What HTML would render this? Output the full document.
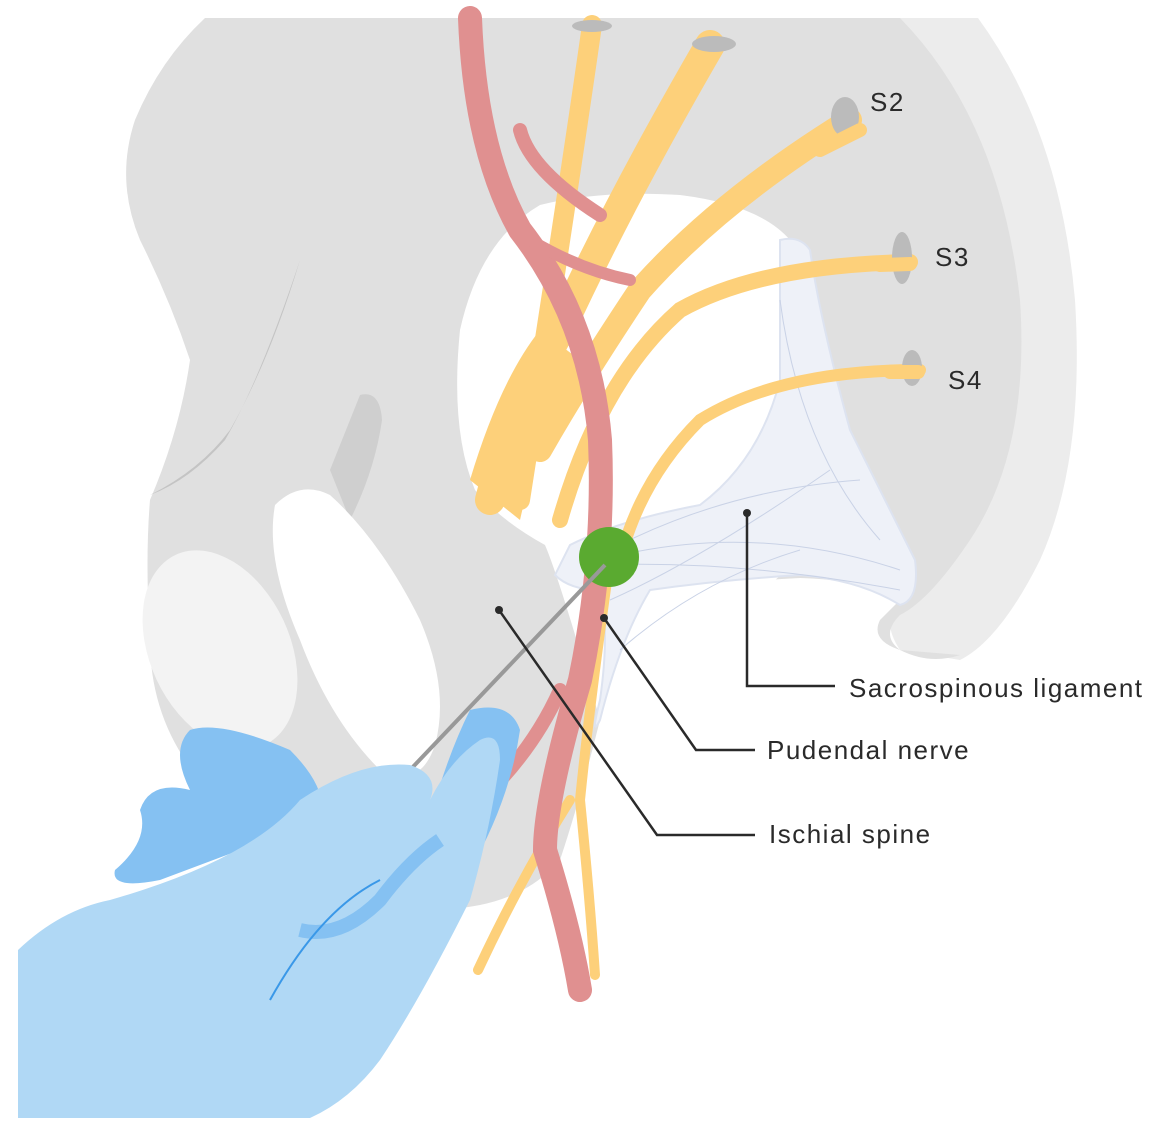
<!DOCTYPE html>
<html><head><meta charset="utf-8"><style>
html,body{margin:0;padding:0;background:#fff}
svg{display:block}
text{font-family:"Liberation Sans",sans-serif;font-size:26px;letter-spacing:1.5px;fill:#2a2a2a}
</style></head><body>
<svg width="1165" height="1135" viewBox="0 0 1165 1135" xmlns="http://www.w3.org/2000/svg">
<!-- sacrum light back -->
<path d="M760 18 L978 18 Q1060 130 1075 300 Q1085 460 1040 560 Q1000 640 960 660 L900 650 Q880 620 900 600 Q980 520 1010 420 Q1030 300 980 200 Q920 100 820 60 Z" fill="#ececec"/>
<!-- pelvis main -->
<path d="M205 18 L900 18 Q1000 120 1020 300 Q1030 450 970 540 Q930 600 900 615 Q880 635 900 650 Q930 665 960 655 L900 650 Q870 640 880 620 L905 595 Q860 580 800 578 Q720 582 650 592 Q620 650 600 720 Q580 800 560 860 Q530 895 480 905 Q400 920 340 900 Q250 840 200 780 Q150 720 150 640 Q145 560 150 500 Q180 430 190 360 Q170 300 140 240 Q115 180 135 120 Q160 60 205 18 Z" fill="#e0e0e0"/>
<!-- dark shading ridge -->
<path d="M300 260 Q260 380 225 440 Q190 480 150 495 Q200 470 230 430 Q270 360 300 260 Z" fill="#c4c4c4"/>
<path d="M360 395 Q380 390 382 420 Q375 470 350 520 L330 470 Z" fill="#cfcfcf"/>
<!-- left oval -->
<ellipse cx="220" cy="650" rx="70" ry="105" transform="rotate(-25 220 650)" fill="#f3f3f3"/>
<!-- obturator foramen -->
<path d="M275 505 Q300 480 330 495 Q380 540 420 620 Q450 690 435 745 Q420 790 380 770 Q330 720 300 640 Q265 560 275 505 Z" fill="#fff"/>
<!-- sciatic notch -->
<path d="M540 205 Q600 190 680 195 Q760 205 790 240 L800 560 L600 720 Q560 580 545 545 Q500 520 475 490 Q450 430 460 330 Q480 240 540 205 Z" fill="#fff"/>
<!-- ligament -->
<path d="M570 545 Q620 520 700 505 Q760 460 780 380 Q780 290 780 240 Q800 235 810 250 Q820 320 850 430 Q890 510 915 560 Q920 600 900 605 Q860 580 800 575 Q720 580 650 590 Q620 640 600 720 Q590 740 600 700 Q610 630 600 590 Q570 590 555 575 Z" fill="#eef1f8" stroke="#dde3f0" stroke-width="2"/>
<g stroke="#c9d2e6" stroke-width="1" fill="none">
<path d="M600 560 Q750 520 900 570"/><path d="M600 555 Q720 490 860 480"/><path d="M600 565 Q740 560 900 590"/>
<path d="M610 600 Q700 560 830 470"/><path d="M620 650 Q700 580 800 550"/><path d="M780 300 Q800 450 880 540"/>
</g>
<!-- nerves -->
<g fill="none" stroke="#fdd07a" stroke-linecap="round">
<path d="M592 25 Q570 180 520 500" stroke-width="20"/>
<path d="M710 45 Q620 200 560 330 Q510 420 490 500" stroke-width="30"/>
<path d="M850 120 Q720 200 640 290 Q580 380 540 450" stroke-width="24"/>
<path d="M910 262 Q760 265 680 310 Q600 380 560 520" stroke-width="16"/>
<path d="M920 370 Q780 370 700 420 Q640 480 620 560" stroke-width="12"/>
<path d="M610 560 Q590 700 580 800 Q590 900 595 975" stroke-width="10"/>
<path d="M570 800 Q520 880 478 970" stroke-width="10"/>
</g>
<path d="M470 480 Q500 380 540 330 L580 360 Q540 430 520 520 Z" fill="#fdd07a"/>
<!-- artery -->
<g fill="none" stroke="#e09090" stroke-linecap="round">
<path d="M470 18 Q475 150 520 230 Q590 320 600 440 Q605 560 580 680 Q545 800 545 850 Q570 930 580 990" stroke-width="24"/>
<path d="M520 130 Q530 170 600 215" stroke-width="14"/>
<path d="M530 240 Q580 270 630 280" stroke-width="12"/>
<path d="M560 690 Q520 780 420 850" stroke-width="14"/>
</g>
<!-- green -->
<circle cx="609" cy="557" r="30" fill="#5aaa30"/>
<!-- needle -->
<line x1="605" y1="565" x2="410" y2="770" stroke="#999" stroke-width="4"/>
<!-- glove -->
<path d="M190 730 Q220 720 290 750 Q330 790 320 820 L160 880 Q110 890 115 870 Q150 840 140 810 Q150 780 190 790 Q170 750 190 730 Z" fill="#85c1f2"/>
<path d="M470 710 Q510 700 520 730 Q510 800 470 870 L420 860 Q440 770 470 710 Z" fill="#85c1f2"/>
<path d="M18 950 Q60 910 110 900 Q250 860 300 800 Q360 760 410 765 Q440 775 430 800 Q450 760 480 740 Q500 730 500 760 Q490 830 470 900 Q420 1000 380 1060 Q350 1100 310 1118 L18 1118 Z" fill="#b0d8f5"/>
<path d="M300 930 Q340 940 380 900 Q410 860 440 840" fill="none" stroke="#85c1f2" stroke-width="14"/>
<path d="M270 1000 Q320 910 380 880" fill="none" stroke="#3a98e8" stroke-width="2"/>
<!-- sacral foramina marks -->
<g fill="#bbb"><ellipse cx="592" cy="26" rx="20" ry="6"/><ellipse cx="714" cy="44" rx="22" ry="8"/><ellipse cx="845" cy="117" rx="14" ry="20"/><ellipse cx="902" cy="258" rx="10" ry="26"/><ellipse cx="912" cy="368" rx="10" ry="18"/></g>
<g fill="none" stroke="#fdd07a" stroke-width="14" stroke-linecap="round"><path d="M860 130 L820 150"/><path d="M910 264 L880 265"/><path d="M918 372 L890 372"/></g>
<!-- leaders -->
<g fill="none" stroke="#2a2a2a" stroke-width="2.5">
<path d="M747 513 V686 H835"/><path d="M604 618 L696 750 H755"/><path d="M499 610 L657 835 H755"/>
</g>
<g fill="#2a2a2a"><circle cx="747" cy="513" r="4"/><circle cx="604" cy="618" r="4"/><circle cx="499" cy="610" r="4"/></g>
<text x="870" y="111">S2</text><text x="935" y="266">S3</text><text x="948" y="389">S4</text>
<text x="849" y="697">Sacrospinous ligament</text>
<text x="767" y="759">Pudendal nerve</text>
<text x="769" y="843">Ischial spine</text>
</svg>
</body></html>
